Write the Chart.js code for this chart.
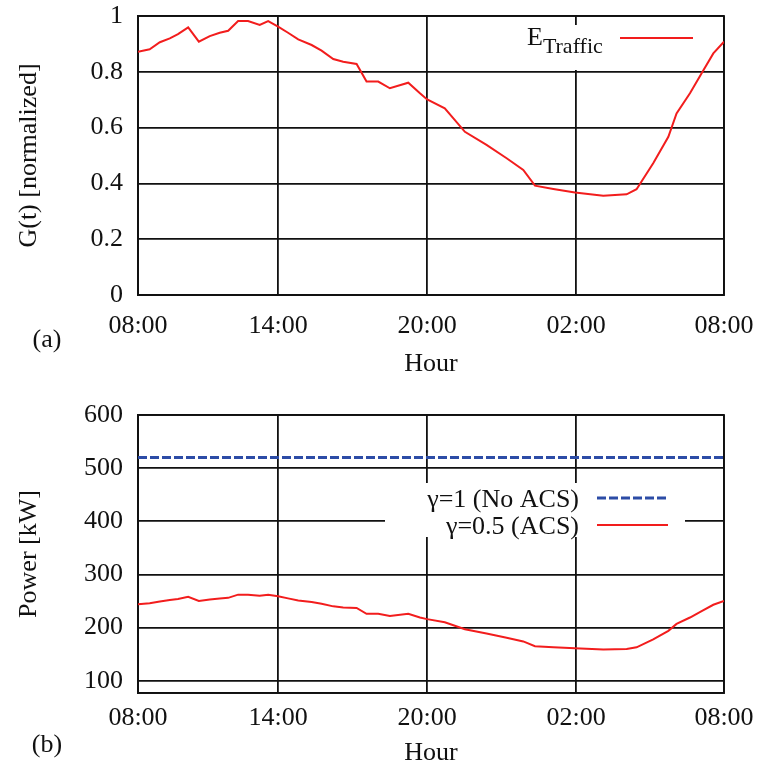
<!DOCTYPE html>
<html>
<head>
<meta charset="utf-8">
<script src="https://cdn.jsdelivr.net/npm/chart.js@4.4.1/dist/chart.umd.min.js"></script>
<style>
    html, body { margin: 0; padding: 0; background: #fff; }
    #wrap { position: relative; width: 761px; height: 773px; }
    #chart-a { position: absolute; left: 0; top: 0; }
    #chart-b { position: absolute; left: 0; top: 385px; }
</style>
</head>
<body>
<div id="wrap">
    <canvas id="chart-a" width="761" height="385"></canvas>
    <canvas id="chart-b" width="761" height="388"></canvas>
</div>
<script>
// Data (x in hours since midnight of day 1)
const hours = [8.36, 8.83, 9.24, 9.64, 9.97, 10.38, 10.81, 11.25, 11.65, 11.99, 12.39, 12.79, 13.26, 13.60, 14.00,
    14.40, 14.81, 15.35, 15.75, 16.22, 16.62, 17.16, 17.56, 18.03, 18.50, 19.24, 19.71, 20.00, 20.71, 21.52,
    22.39, 23.20, 23.87, 24.34, 25.08, 25.95, 27.09, 28.03, 28.43, 29.10, 29.71, 30.04, 30.58, 31.05, 31.52, 31.95];
const traffic = [0.872, 0.881, 0.906, 0.920, 0.935, 0.959, 0.908, 0.928, 0.940, 0.947, 0.982, 0.982, 0.968, 0.982, 0.962,
    0.940, 0.916, 0.896, 0.876, 0.846, 0.836, 0.828, 0.765, 0.765, 0.741, 0.761, 0.723, 0.701, 0.669, 0.585,
    0.538, 0.490, 0.448, 0.392, 0.380, 0.367, 0.356, 0.361, 0.379, 0.472, 0.567, 0.651, 0.723, 0.795, 0.866, 0.908];
const acsPower = [244, 246, 249, 252, 254, 258, 250, 253, 255, 256, 262, 262, 260, 262, 259,
    255, 251, 248, 245, 240, 238, 237, 226, 226, 222, 226, 219, 216, 210, 197,
    189, 181, 174, 165, 163, 161, 159, 160, 163, 178, 194, 207, 219, 231, 243, 250];
const noAcsHours = [8.36, 31.95];
const noAcsPower = [520, 520];

const tickHours = [8.36, 14, 20, 26, 31.95];
const tickLabels = ["08:00", "14:00", "20:00", "02:00", "08:00"];
const trafficTicks = [0, 0.2, 0.4, 0.6, 0.8, 1];
const powerTicks = [100, 200, 300, 400, 500, 600];

const RED = "#f21d1d";
const BLUE = "#2c4ca6";
const INK = "#111";
const FONT = "'Liberation Serif', 'DejaVu Serif', serif";

Chart.defaults.font.family = FONT;
Chart.defaults.font.size = 26;
Chart.defaults.color = INK;

function points(xs, ys) {
    return xs.map((x, i) => ({ x: x, y: ys[i] }));
}

// Frame + legend + panel letter
const decor = {
    id: "decor",
    beforeDatasetsDraw(chart, args, opts) {
        const ctx = chart.ctx;
        const a = chart.chartArea;
        ctx.save();
        ctx.strokeStyle = INK;
        ctx.lineWidth = 1.8;
        ctx.strokeRect(a.left, a.top, a.right - a.left, a.bottom - a.top);

        const box = opts.box;
        ctx.fillStyle = "#fff";
        ctx.fillRect(box[0], box[1], box[2], box[3]);

        ctx.textBaseline = "alphabetic";
        ctx.fillStyle = INK;
        opts.rows.forEach((row) => {
            if (row.sub) {
                ctx.textAlign = "left";
                ctx.font = "26px " + FONT;
                ctx.fillText(row.text, row.tx, row.ty);
                const w = ctx.measureText(row.text).width;
                ctx.font = "22px " + FONT;
                ctx.fillText(row.sub, row.tx + w, row.ty + 8);
            } else {
                ctx.textAlign = "right";
                ctx.font = "26px " + FONT;
                ctx.fillText(row.text, row.tx, row.ty);
            }
            ctx.beginPath();
            ctx.strokeStyle = row.color;
            ctx.lineWidth = row.width;
            ctx.setLineDash(row.dash || []);
            ctx.moveTo(row.x0, row.ly);
            ctx.lineTo(row.x1, row.ly);
            ctx.stroke();
            ctx.setLineDash([]);
        });

        ctx.font = "26px " + FONT;
        ctx.textAlign = "center";
        ctx.textBaseline = "middle";
        ctx.fillStyle = INK;
        ctx.fillText(opts.letter[0], opts.letter[1], opts.letter[2]);
        ctx.restore();
    }
};

function makeOptions(cfg) {
    return {
        responsive: false,
        animation: false,
        layout: { padding: { top: cfg.top, right: 37, left: 0, bottom: 0 } },
        plugins: {
            legend: { display: false },
            tooltip: { enabled: false },
            decor: cfg.decor
        },
        scales: {
            x: {
                type: "linear",
                min: tickHours[0],
                max: tickHours[tickHours.length - 1],
                afterBuildTicks: (scale) => { scale.ticks = tickHours.map((v) => ({ value: v })); },
                afterFit: (scale) => {
                    scale.height = cfg.xHeight;
                    scale.paddingLeft = 0;
                    scale.paddingRight = 0;
                },
                ticks: {
                    autoSkip: false,
                    maxRotation: 0,
                    padding: cfg.xTickPad,
                    callback: (v, i) => tickLabels[i]
                },
                grid: { color: INK, lineWidth: 1.8, drawTicks: false },
                border: { display: true, color: INK, width: 1.8 },
                title: { display: true, text: "Hour", padding: { top: 0, bottom: cfg.xTitlePad } }
            },
            y: {
                min: cfg.yMin,
                max: cfg.yMax,
                afterBuildTicks: (scale) => { scale.ticks = cfg.yTicks.map((v) => ({ value: v })); },
                afterFit: (scale) => {
                    scale.width = 138;
                    scale.paddingTop = 0;
                    scale.paddingBottom = 0;
                },
                ticks: { padding: 15, callback: (v) => String(v) },
                grid: { color: INK, lineWidth: 1.8, drawTicks: false },
                border: { display: true, color: INK, width: 1.8 },
                title: { display: true, text: cfg.yTitle, padding: { top: 14, bottom: 0 } }
            }
        }
    };
}

// (a) normalized traffic
new Chart(document.getElementById("chart-a"), {
    type: "line",
    data: {
        datasets: [{
            data: points(hours, traffic),
            borderColor: RED,
            borderWidth: 2,
            pointRadius: 0,
            tension: 0
        }]
    },
    options: makeOptions({
        top: 16, xHeight: 90, xTickPad: 16, xTitlePad: 5,
        yMin: 0, yMax: 1, yTicks: trafficTicks, yTitle: "G(t) [normalized]",
        decor: {
            box: [505, 25, 205, 45],
            rows: [{ text: "E", sub: "Traffic", tx: 527, ty: 45, x0: 620, x1: 693, ly: 38, color: RED, width: 2 }],
            letter: ["(a)", 47, 340]
        }
    }),
    plugins: [decor]
});

// (b) power consumption
new Chart(document.getElementById("chart-b"), {
    type: "line",
    data: {
        datasets: [{
            data: points(noAcsHours, noAcsPower),
            borderColor: BLUE,
            borderWidth: 3,
            borderDash: [9, 3],
            pointRadius: 0
        }, {
            data: points(hours, acsPower),
            borderColor: RED,
            borderWidth: 2,
            pointRadius: 0,
            tension: 0
        }]
    },
    options: makeOptions({
        top: 30, xHeight: 80, xTickPad: 10, xTitlePad: 4,
        yMin: 77, yMax: 600, yTicks: powerTicks, yTitle: "Power [kW]",
        decor: {
            box: [385, 98, 300, 54],
            rows: [
                { text: "\u03b3=1 (No ACS)", tx: 579, ty: 122, x0: 597, x1: 668, ly: 113, color: BLUE, width: 3, dash: [9, 3] },
                { text: "\u03b3=0.5 (ACS)", tx: 579, ty: 149, x0: 597, x1: 668, ly: 140, color: RED, width: 2 }
            ],
            letter: ["(b)", 47, 360]
        }
    }),
    plugins: [decor]
});
</script>
</body>
</html>
